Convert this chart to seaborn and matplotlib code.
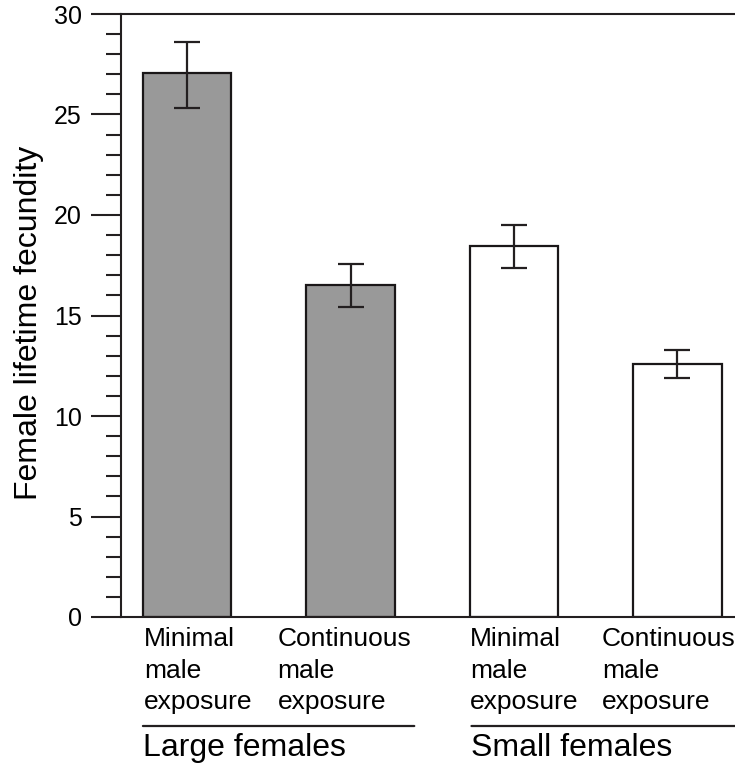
import numpy as np
import pandas as pd
import matplotlib
matplotlib.use("Agg")
import matplotlib.pyplot as plt
import seaborn as sns
from matplotlib.ticker import MultipleLocator

# ---- data ----
cat_ids = ["L_min", "L_cont", "S_min", "S_cont"]
cat_labels = ["Minimal\nmale\nexposure", "Continuous\nmale\nexposure",
              "Minimal\nmale\nexposure", "Continuous\nmale\nexposure"]
groups = ["Large females", "Large females", "Small females", "Small females"]
means = [27.05, 16.5, 18.45, 12.6]
err_low = [25.3, 15.4, 17.35, 11.9]
err_high = [28.6, 17.55, 19.5, 13.3]
fill_colors = ["#999999", "#999999", "#ffffff", "#ffffff"]
group_names = ["Large females", "Small females"]

sns.set_style("ticks")
plt.rcParams["font.family"] = ["Liberation Sans", "DejaVu Sans"]
plt.rcParams["text.color"] = "black"
plt.rcParams["axes.labelcolor"] = "black"

df = pd.DataFrame({"cat": cat_ids, "val": means})

fig = plt.figure(figsize=(7.35, 7.64), dpi=100)
ax = fig.add_axes([121/735, (764-617)/764, 1-121/735, (617-14)/764])

sns.barplot(data=df, x="cat", y="val", hue="cat", palette=fill_colors,
            order=cat_ids, hue_order=cat_ids, legend=False,
            edgecolor="#1a1718", linewidth=1.6, width=0.54, ax=ax)

xpos = np.arange(len(cat_ids))
yerr = [np.array(means) - np.array(err_low), np.array(err_high) - np.array(means)]
ax.errorbar(xpos, means, yerr=yerr, fmt="none", ecolor="#231f20",
            elinewidth=1.6, capsize=9.5, capthick=1.6, zorder=5)

ax.set_xlim(-0.404, 3.352)
ax.set_ylim(0, 30)
ax.yaxis.set_major_locator(MultipleLocator(5))
ax.yaxis.set_minor_locator(MultipleLocator(1))
ax.tick_params(axis="y", which="major", length=21.6, width=1.5,
               labelsize=18, colors="#231f20", pad=6.5)
ax.tick_params(axis="y", which="minor", length=10.8, width=1.5, colors="#231f20")
ax.tick_params(axis="y", labelcolor="black")
ax.set_xticks([])
ax.set_xlabel("")
ax.set_ylabel("Female lifetime fecundity", fontsize=23)
ax.yaxis.set_label_coords(-0.126, 0.487)

for s in ["left", "top", "bottom"]:
    ax.spines[s].set_visible(True)
    ax.spines[s].set_linewidth(1.5)
    ax.spines[s].set_color("#231f20")
ax.spines["right"].set_visible(False)

# category labels, left-aligned under bars
offsets = [-0.263, -0.447, -0.269, -0.462]
for i, (lab, off) in enumerate(zip(cat_labels, offsets)):
    ax.annotate(lab, xy=(i + off, 764 - 627), xycoords=("data", "figure pixels"),
                ha="left", va="top", fontsize=19, linespacing=1.4,
                multialignment="left", annotation_clip=False)

# group lines and labels
gx = {"Large females": (-0.27, 1.39), "Small females": (1.74, 3.352)}
for g in group_names:
    x0, x1 = gx[g]
    ax.annotate("", xy=(x1, 764 - 726), xytext=(x0, 764 - 726),
                xycoords=("data", "figure pixels"),
                textcoords=("data", "figure pixels"),
                arrowprops=dict(arrowstyle="-", lw=1.6, color="#231f20",
                                shrinkA=0, shrinkB=0),
                annotation_clip=False)
    ax.annotate(g, xy=(x0, 764 - 748), xycoords=("data", "figure pixels"),
                ha="left", va="center", fontsize=23, annotation_clip=False)

fig.savefig("out.png", dpi=100)
